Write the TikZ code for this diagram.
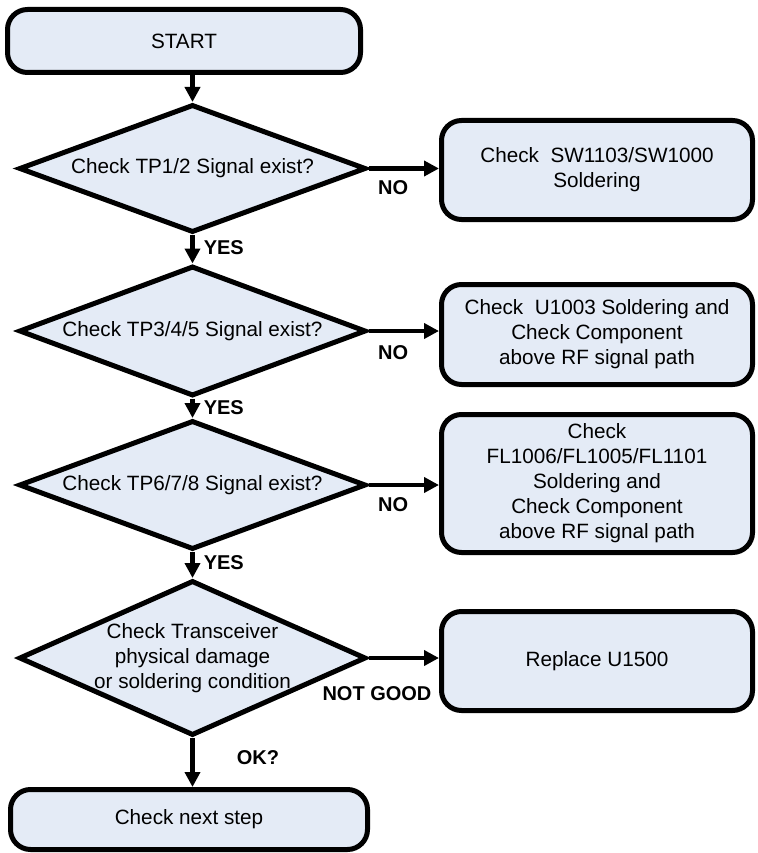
\documentclass[tikz,border=0pt]{standalone}
\usepackage{fontspec}
\setmainfont{Liberation Sans}
\usepackage{xcolor}
\definecolor{boxfill}{HTML}{E4EBF6}
\usepackage{tikz}
\usetikzlibrary{arrows.meta,shapes.geometric}

\begin{document}
\begin{tikzpicture}[
		x=1pt, y=-1pt,
		>={Triangle[length=15pt,width=15pt]},
		term/.style={
			draw=black,
			rounded corners=20pt,
			line width=5pt,
			fill=boxfill,
			align=center,
			inner sep=4pt,
			font=\fontsize{20.7}{25}\selectfont
		},
		decision/.style={
			diamond,
			aspect=2.7,
			draw=black,
			line width=5pt,
			fill=boxfill,
			align=center,
			inner sep=0pt,
			minimum width=347pt,
			font=\fontsize{20.7}{25}\selectfont
		},
		fixbox/.style={
			term,
			minimum width=311pt
		},
		lab/.style={
			font=\fontsize{20}{24}\selectfont\bfseries,
			inner sep=2pt
		},
		arrow/.style={
			->,
			line width=4.5pt,
			draw=black
		}
	]
	\useasboundingbox (0,0) rectangle (757,853);
	
	% Main column
	\node[term, minimum width=353pt, minimum height=63pt] (start) at (184,41) {START};
	
	\node[decision, minimum height=128pt] (d1) at (192.5,168.5) {Check TP1/2 Signal exist?};
	
	\node[decision, minimum height=130pt] (d2) at (192.5,331) {Check TP3/4/5 Signal exist?};
	
	\node[decision, minimum height=129pt] (d3) at (192.5,485) {Check TP6/7/8 Signal exist?};
	
	\node[decision, minimum height=155pt, aspect=2.24, inner xsep=-30pt] (d4) at (192.5,658) {%
		Check Transceiver\\
		physical damage\\
		or soldering condition
	};
	
	\node[term, minimum width=357pt, minimum height=60pt] (next) at (189,819.5) {Check next step};
	
	% Fix boxes on the right
	\node[fixbox, minimum height=99pt] (fix1) at (597,170) {%
		Check\ \ SW1103/SW1000\\
		Soldering
	};
	
	\node[fixbox, minimum height=100pt] (fix2) at (597,334.5) {%
		Check\ \ U1003 Soldering and\\
		Check Component\\
		above RF signal path
	};
	
	\node[fixbox, minimum height=138pt] (fix3) at (597,483.5) {%
		Check\\
		FL1006/FL1005/FL1101\\
		Soldering and\\
		Check Component\\
		above RF signal path
	};
	
	\node[fixbox, minimum height=99pt] (fix4) at (597,661) {Replace U1500};
	
	% Arrows down the main column
	\draw[arrow] (start.south -| d1.north) -- (d1.north);
	\draw[arrow] (d1.south) -- node[lab, anchor=west, xshift=7pt, pos=0.45] {YES} (d2.north);
	\draw[arrow] (d2.south) -- node[lab, anchor=west, xshift=7pt, pos=0.45] {YES} (d3.north);
	\draw[arrow] (d3.south) -- node[lab, anchor=west, xshift=7pt, pos=0.4] {YES} (d4.north);
	\draw[arrow] (d4.south) -- node[lab, anchor=west, xshift=40pt, pos=0.4] {OK?} (d4.south |- next.north);
	
	% Arrows to the fix boxes
	\draw[arrow] (d1.east) -- node[lab, below=8pt, pos=0.35] {NO} (d1.east -| fix1.west);
	\draw[arrow] (d2.east) -- node[lab, below=10pt, pos=0.35] {NO} (d2.east -| fix2.west);
	\draw[arrow] (d3.east) -- node[lab, below=8pt, pos=0.35] {NO} (d3.east -| fix3.west);
	\draw[arrow] (d4.east) -- node[lab, below=24pt, pos=0.12] {NOT GOOD} (d4.east -| fix4.west);
	
\end{tikzpicture}
\end{document}
